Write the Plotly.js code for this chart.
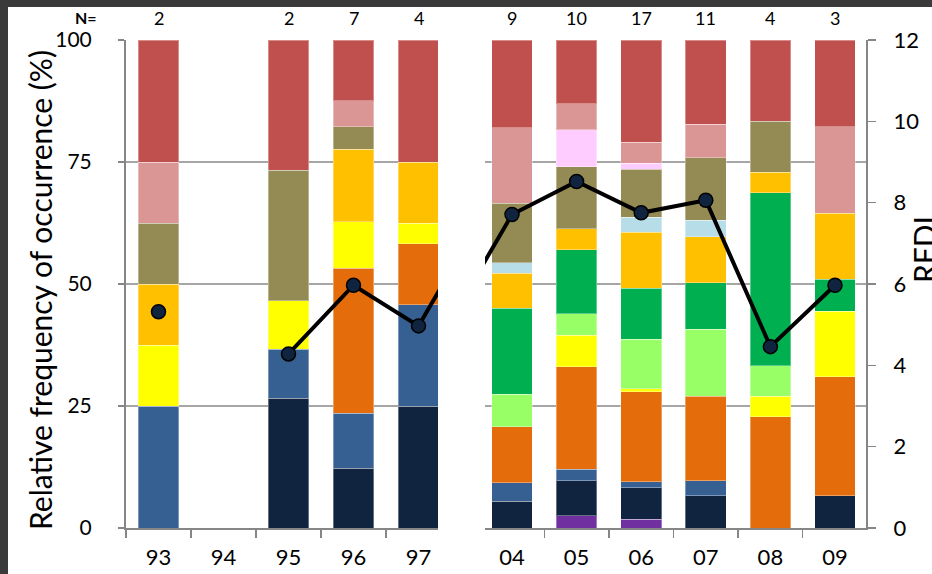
<!DOCTYPE html>
<html>
<head>
<meta charset="utf-8">
<script src="https://cdn.plot.ly/plotly-3.0.1.min.js"></script>
<style>
html,body{margin:0;padding:0;background:#fff;}
#chart{width:932px;height:574px;}
</style>
</head>
<body>
<div id="chart"></div>
<script>
// ---- data ----
const years = ['93','94','95','96','97','04','05','06','07','08','09'];
const splitAt = 5; // first 5 years in left panel, rest in right panel
const nCounts = [2,null,2,7,4,9,10,17,11,4,3];
const rfdi = [5.32,null,4.28,5.97,4.97,7.71,8.52,7.75,8.06,4.46,5.97];

const purple     = [0,0,0,0,0,      0,2.5,1.8,0,0,0];
const navy       = [0,0,26.6,12.2,25, 5.5,7.2,6.5,6.6,0,6.6];
const steelblue  = [25,0,10,11.3,20.8, 3.8,2.3,1.2,3.1,0,0];
const orange     = [0,0,0,29.7,12.5, 11.5,21,18.4,17.3,22.8,24.4];
const yellow     = [12.5,0,10,9.6,4.2, 0,6.5,0.6,0,4.2,13.4];
const lightgreen = [0,0,0,0,0,      6.6,4.4,10.2,13.7,6.3,0];
const green      = [0,0,0,0,0,      17.6,13.1,10.4,9.6,35.4,6.6];
const amber      = [12.5,0,0,14.8,12.5, 7.2,4.3,11.5,9.4,4.2,13.5];
const lightblue  = [0,0,0,0,0,      2.2,0,3.1,3.4,0,0];
const olive      = [12.5,0,26.7,4.6,0, 12.1,12.7,9.8,12.8,10.5,0];
const pink       = [0,0,0,0,0,      0,7.6,1.2,0,0,0];
const rose       = [12.5,0,0,5.4,0, 15.5,5.3,4.3,6.8,0,17.7];
const red        = [25,0,26.7,12.4,25, 18,13.1,21,17.3,16.6,17.8];

const series = [
  {name:'purple', vals:purple, color:'#7030A0'},
  {name:'navy', vals:navy, color:'#10243F'},
  {name:'steelblue', vals:steelblue, color:'#376092'},
  {name:'orange', vals:orange, color:'#E46C0A'},
  {name:'yellow', vals:yellow, color:'#FFFF00'},
  {name:'lightgreen', vals:lightgreen, color:'#99FF66'},
  {name:'green', vals:green, color:'#00B050'},
  {name:'amber', vals:amber, color:'#FFC000'},
  {name:'lightblue', vals:lightblue, color:'#B7DEE8'},
  {name:'olive', vals:olive, color:'#948A54'},
  {name:'pink', vals:pink, color:'#FFCCFF'},
  {name:'rose', vals:rose, color:'#D99694'},
  {name:'red', vals:red, color:'#C0504D'}
];

// ---- geometry helpers (pixels -> paper, margins are zero) ----
const W = 932, H = 574;
const px = v => v / W;
const py = v => 1 - v / H;

const leftYears = years.slice(0, splitAt);
const rightYears = years.slice(splitAt);
const leftIdx = leftYears.map((_, i) => i);
const rightIdx = rightYears.map((_, i) => i);

const traces = [];
series.forEach(s => {
  const nz = v => (v === 0 ? null : v);
  traces.push({
    type:'bar', x:leftIdx, y:s.vals.slice(0, splitAt).map(nz),
    xaxis:'x', yaxis:'y', width:0.63, name:s.name, showlegend:false,
    marker:{color:s.color, line:{color:'rgba(255,255,255,0.35)', width:1}},
    hoverinfo:'skip'
  });
  traces.push({
    type:'bar', x:rightIdx, y:s.vals.slice(splitAt).map(nz),
    xaxis:'x2', yaxis:'y2', width:0.63, name:s.name, showlegend:false,
    marker:{color:s.color, line:{color:'rgba(255,255,255,0.35)', width:1}},
    hoverinfo:'skip'
  });
});

// RFDI line: each panel continues towards the neighbouring point (clipped by its plot area)
const lineStyle = {color:'#000000', width:4};
const markerStyle = {color:'#10243F', size:14, line:{color:'#000000', width:1.5}};
traces.push({
  type:'scatter', mode:'lines+markers',
  x: leftIdx.concat([splitAt]),
  y: rfdi.slice(0, splitAt).concat([rfdi[splitAt]]),
  xaxis:'x', yaxis:'y3', line:lineStyle, marker:markerStyle, showlegend:false, connectgaps:false
});
traces.push({
  type:'scatter', mode:'lines+markers',
  x: [-1].concat(rightIdx),
  y: [rfdi[splitAt-1]].concat(rfdi.slice(splitAt)),
  xaxis:'x2', yaxis:'y4', line:lineStyle, marker:markerStyle, showlegend:false
});

const FONT = 'Lato, "Open Sans", sans-serif';
const axisGray = '#868686';
const gridGray = '#A6A6A6';
const yDom = [py(528), py(40)];

const xCommon = {
  type:'linear', tickmode:'array', ticks:'', showgrid:false, zeroline:false,
  showline:true, linecolor:axisGray, linewidth:2,
  tickfont:{family:FONT, size:22, color:'#000'},
  ticklabelstandoff:9,
  minor:{tick0:-0.5, dtick:1, ticks:'outside', ticklen:8, tickcolor:axisGray, tickwidth:1.5, showgrid:false}
};

const layout = {
  width:W, height:H,
  margin:{l:0, r:0, t:0, b:0},
  paper_bgcolor:'#ffffff', plot_bgcolor:'rgba(0,0,0,0)',
  barmode:'stack',
  showlegend:false,
  font:{family:FONT, color:'#000'},
  xaxis: Object.assign({}, xCommon, {
    domain:[px(126), px(438)], range:[-0.5, 4.3], anchor:'y',
    tickvals:leftIdx, ticktext:leftYears
  }),
  xaxis2: Object.assign({}, xCommon, {
    domain:[px(485), px(866)], range:[-0.418, 5.48], anchor:'y2',
    tickvals:rightIdx, ticktext:rightYears
  }),
  yaxis:{
    domain:yDom, range:[0,100], tickvals:[0,25,50,75,100], anchor:'x',
    showgrid:true, gridcolor:gridGray, gridwidth:1.5, zeroline:false,
    showline:true, linecolor:axisGray, linewidth:2,
    ticks:'outside', ticklen:6, tickcolor:axisGray, tickwidth:1.5,
    tickfont:{family:FONT, size:21, color:'#000'}, ticklabelstandoff:22
  },
  yaxis2:{
    domain:yDom, range:[0,100], tickvals:[0,25,50,75,100], anchor:'x2',
    showgrid:true, gridcolor:gridGray, gridwidth:1.5, zeroline:false,
    showline:false, showticklabels:false, ticks:''
  },
  yaxis3:{
    overlaying:'y', anchor:'x', range:[0,12], visible:false
  },
  yaxis4:{
    overlaying:'y2', anchor:'x2', side:'right', range:[0,12], dtick:2, tick0:0,
    showgrid:false, zeroline:false, showline:true, linecolor:axisGray, linewidth:2,
    ticks:'outside', ticklen:8, tickcolor:axisGray, tickwidth:1.5,
    tickfont:{family:FONT, size:22, color:'#000'}, ticklabelstandoff:13
  },
  shapes:[
    {type:'rect', xref:'paper', yref:'paper', x0:0, x1:px(8), y0:0, y1:1, fillcolor:'#3A3A3A', line:{width:0}, layer:'above'},
    {type:'rect', xref:'paper', yref:'paper', x0:0, x1:1, y0:py(7), y1:1, fillcolor:'#3A3A3A', line:{width:0}, layer:'above'}
  ],
  annotations:[]
};

// axis titles
layout.annotations.push({
  xref:'paper', yref:'paper', x:px(40), y:py(290), text:'Relative frequency of occurrence (%)',
  textangle:-90, showarrow:false, font:{family:FONT, size:30, color:'#000'}, xanchor:'center', yanchor:'middle'
});
layout.annotations.push({
  xref:'paper', yref:'paper', x:px(924), y:py(250), text:'RFDI',
  textangle:-90, showarrow:false, font:{family:FONT, size:30, color:'#000'}, xanchor:'center', yanchor:'middle'
});
// N= labels
layout.annotations.push({
  xref:'paper', yref:'paper', x:px(86), y:py(18), text:'<b>N=</b>',
  showarrow:false, font:{family:FONT, size:16, color:'#000'}, xanchor:'center', yanchor:'middle'
});
years.forEach((yr, i) => {
  if (nCounts[i] === null) return;
  const left = i < splitAt;
  layout.annotations.push({
    xref: left ? 'x' : 'x2', yref:'paper',
    x: left ? i : i - splitAt, y: py(18),
    text: String(nCounts[i]), showarrow:false,
    font:{family:FONT, size:18, color:'#000'}, xanchor:'center', yanchor:'middle'
  });
});

Plotly.newPlot('chart', traces, layout, {staticPlot:true});
</script>
</body>
</html>
